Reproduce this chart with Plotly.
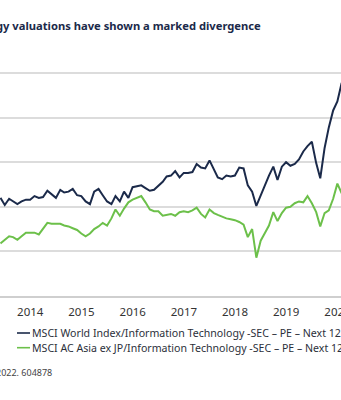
import pandas as pd
import plotly.graph_objects as go

# Monthly forward P/E readings, Dec 2013 onwards
months = pd.date_range("2013-12-01", periods=81, freq="MS")

world_it_pe = [
    16.0, 15.2, 15.9, 15.6, 15.3, 15.6, 15.8, 15.8, 16.2, 16.0, 16.1, 16.8,
    16.4, 16.0, 16.9, 16.6, 16.7, 17.0, 16.3, 16.2, 15.6, 15.3, 16.7, 17.0,
    16.3, 15.6, 15.3, 16.2, 15.6, 16.7, 16.0, 17.2, 17.3, 17.4, 17.1, 16.8,
    16.9, 17.3, 17.8, 18.4, 18.5, 19.0, 18.3, 18.8, 18.8, 18.9, 19.8, 19.4,
    19.3, 20.2, 19.1, 18.3, 18.1, 18.5, 18.4, 18.5, 19.4, 19.3, 17.4, 16.7,
    15.1, 16.3, 17.6, 18.5, 19.5, 18.0, 19.5, 20.0, 19.6, 19.8, 20.3, 21.2,
    21.8, 22.3, 19.9, 18.2, 21.6, 23.9, 25.8, 26.8, 28.9,
]

asia_it_pe = [
    10.9, 11.3, 11.7, 11.6, 11.3, 11.7, 12.1, 12.1, 12.1, 11.9, 12.6, 13.2,
    13.1, 13.1, 13.1, 12.9, 12.8, 12.6, 12.4, 12.0, 11.7, 12.0, 12.5, 12.8,
    13.2, 12.9, 13.7, 14.7, 14.0, 14.8, 15.5, 15.8, 16.0, 16.2, 15.5, 14.7,
    14.5, 14.5, 14.0, 14.1, 14.2, 14.0, 14.4, 14.5, 14.4, 14.6, 14.9, 14.2,
    13.8, 14.7, 14.3, 14.1, 13.9, 13.7, 13.6, 13.5, 13.3, 13.0, 11.6, 12.5,
    9.3, 11.2, 12.1, 12.9, 14.4, 13.4, 14.3, 14.9, 15.0, 15.4, 15.6, 15.5,
    16.2, 15.4, 14.4, 12.8, 14.3, 14.6, 15.9, 17.6, 16.5,
]

# Year labels sit mid-year
year_labels = ["2014", "2015", "2016", "2017", "2018", "2019", "2020"]
year_ticks = [f"{y}-07-02" for y in year_labels]

series_names = [
    "MSCI World Index/Information Technology -SEC \u2013 PE \u2013 Next 12 Months",
    "MSCI AC Asia ex JP/Information Technology -SEC \u2013 PE \u2013 Next 12 Months",
]
series_colors = ["#1b2a4a", "#6cc04a"]

title_text = "Technology valuations have shown a marked divergence"
source_text = "2022. 604878"

W, H = 341, 400
M_T, M_B = 70, 104
PLOT_H = H - M_T - M_B


def py(px):
    """Pixel row -> paper y."""
    return (H - M_B - px) / PLOT_H


def pxx(px):
    """Pixel column -> paper x."""
    return px / W


fig = go.Figure()
for name, vals, col in zip(series_names, [world_it_pe, asia_it_pe], series_colors):
    fig.add_trace(go.Scatter(
        x=months, y=vals, mode="lines", name=name,
        line=dict(color=col, width=2), showlegend=False,
    ))

font_family = "Noto Sans, Open Sans, sans-serif"

# Title
fig.add_annotation(
    text="<b>" + title_text + "</b>", xref="paper", yref="paper",
    x=pxx(263), y=py(25), xanchor="right", yanchor="middle",
    showarrow=False, font=dict(family=font_family, size=11.2, color="#1b2a4a"),
)

# Legend rows drawn as short line + label
for i, (name, col) in enumerate(zip(series_names, series_colors)):
    yy = 333 + i * 14.7
    fig.add_shape(
        type="line", xref="paper", yref="paper",
        x0=pxx(17), x1=pxx(30), y0=py(yy), y1=py(yy),
        line=dict(color=col, width=1.6),
    )
    fig.add_annotation(
        text=name, xref="paper", yref="paper",
        x=pxx(30), y=py(yy), xanchor="left", yanchor="middle",
        showarrow=False, font=dict(family=font_family, size=10.6, color="#2b2f3a"),
    )

# Source line
fig.add_annotation(
    text=source_text, xref="paper", yref="paper",
    x=pxx(53.5), y=py(372), xanchor="right", yanchor="middle",
    showarrow=False, font=dict(family=font_family, size=9.0, color="#444444"),
)

fig.update_layout(
    width=W, height=H,
    margin=dict(l=0, r=0, t=M_T, b=M_B, autoexpand=False),
    plot_bgcolor="white", paper_bgcolor="white",
    font=dict(family=font_family, color="#333333"),
    xaxis=dict(
        type="date",
        range=["2013-11-28", "2020-07-27"],
        tickvals=year_ticks, ticktext=year_labels,
        ticks="outside", ticklen=4, tickcolor="rgba(0,0,0,0)",
        ticklabeloverflow="allow", automargin=False,
        showgrid=False, zeroline=False,
        showline=True, linecolor="#cfcfcf", linewidth=2,
        tickfont=dict(size=11.5, color="#333333"),
    ),
    yaxis=dict(
        range=[5, 5 + PLOT_H * 25 / 223],
        dtick=5, tick0=5,
        showticklabels=False, ticks="",
        showgrid=True, gridcolor="#dcdcdc", gridwidth=2,
        zeroline=False, showline=False, automargin=False,
    ),
)

fig.write_html("out.html")
